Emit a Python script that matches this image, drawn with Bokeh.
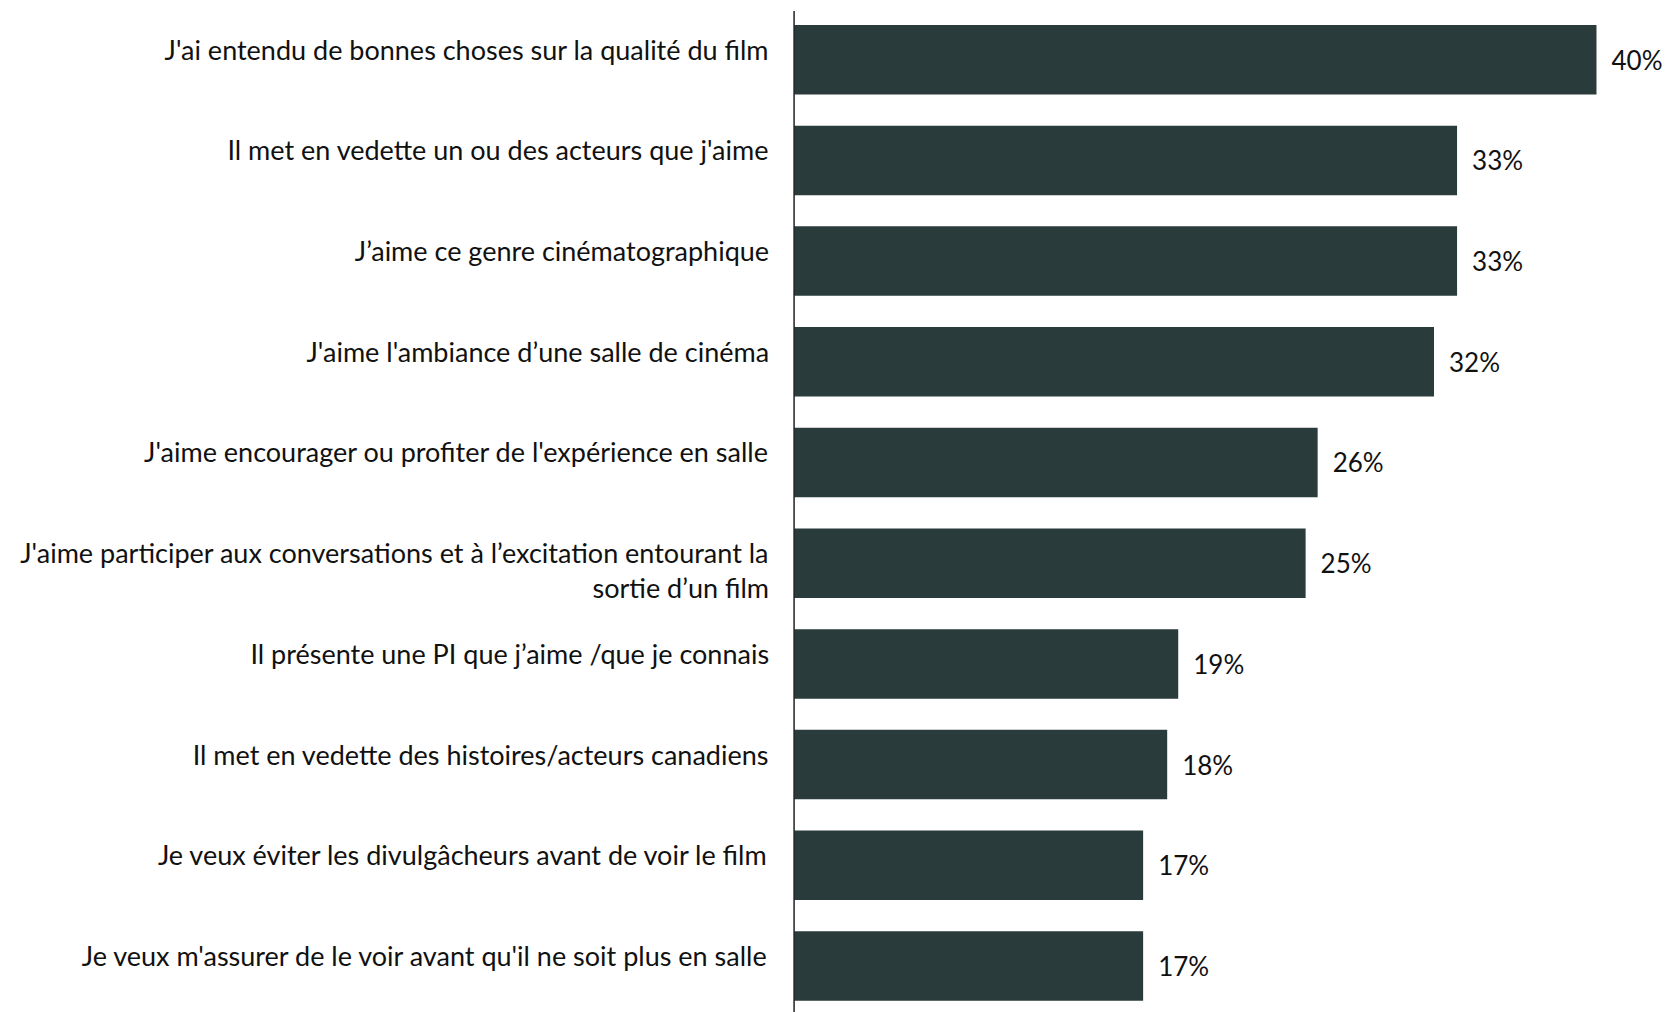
from bokeh.plotting import figure
from bokeh.models import ColumnDataSource, Range1d
from bokeh.core.properties import value
from bokeh.embed import file_html
from bokeh.resources import INLINE

categories = [
    "J'ai entendu de bonnes choses sur la qualité du film",
    "Il met en vedette un ou des acteurs que j'aime",
    "J’aime ce genre cinématographique",
    "J'aime l'ambiance d’une salle de cinéma",
    "J'aime encourager ou profiter de l'expérience en salle",
    "J'aime participer aux conversations et à l’excitation entourant la\nsortie d’un film",
    "Il présente une PI que j’aime /que je connais",
    "Il met en vedette des histoires/acteurs canadiens",
    "Je veux éviter les divulgâcheurs avant de voir le film",
    "Je veux m'assurer de le voir avant qu'il ne soit plus en salle",
]
values = [40.0, 33.05, 33.05, 31.9, 26.1, 25.5, 19.15, 18.6, 17.4, 17.4]
value_labels = ["40%", "33%", "33%", "32%", "26%", "25%", "19%", "18%", "17%", "17%"]

pos = list(range(len(categories)))
src = ColumnDataSource(dict(y=pos, v=values, cat=categories, lab=value_labels,
                            zero=[0] * len(pos)))

FONT = "Lato"
BAR = "#2a3b3b"

p = figure(width=1668, height=1012, output_backend="svg", toolbar_location=None,
           x_range=Range1d(-39.56, 43.59), y_range=Range1d(9.462, -0.588),
           min_border=0, outline_line_color=None)
p.axis.visible = False
p.grid.visible = False

p.hbar(y="y", left=0, right="v", height=0.69, source=src,
       fill_color=BAR, line_color=None)

# value labels
p.text(x="v", y="y", text="lab", source=src, x_offset=15,
       text_align="left", text_baseline="middle",
       text_font=value(FONT), text_font_size="26px", text_color="#111111")

# category labels
p.text(x="zero", y="y", text="cat", source=src, x_offset=-25, y_offset=-27,
       text_align="right", text_baseline="top", text_line_height=1.05,
       text_font=value(FONT), text_font_size="27px", text_color="#111111")

# vertical axis line
p.segment(x0=[0], y0=[-0.483], x1=[0], y1=[9.462], line_color="#222222", line_width=1.5)

open("out.html", "w").write(file_html(p, INLINE))
